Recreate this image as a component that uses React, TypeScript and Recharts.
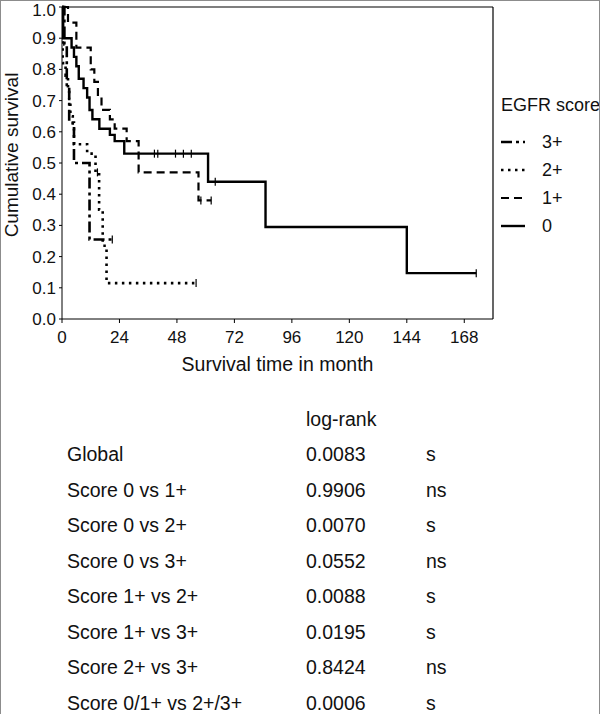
import { LineChart, Line, XAxis, YAxis, ReferenceLine, Legend, Label } from "recharts";

// Kaplan-Meier steps (months, cumulative survival)
const score0Time = [0, 0.5, 4, 5, 6, 7, 9, 10.5, 11.5, 12.7, 15.6, 20, 22, 26, 61, 85, 144];
const score0Surv = [1.0, 0.9, 0.87, 0.84, 0.81, 0.77, 0.74, 0.71, 0.67, 0.64, 0.61, 0.59, 0.57, 0.53, 0.44, 0.295, 0.147];
const score0Cens = [38.6, 40, 47.4, 50.7, 54, 64, 173];

const score1Time = [0, 2.5, 6, 12, 13.5, 15, 16.5, 20, 22, 27, 32, 57];
const score1Surv = [1.0, 0.95, 0.87, 0.8, 0.76, 0.71, 0.67, 0.64, 0.61, 0.57, 0.47, 0.38];
const score1Cens = [58, 62.3];

const score2Time = [0, 0.3, 1.5, 2.5, 3, 3.5, 4.5, 5, 10.5, 14, 15.5, 17, 18.6];
const score2Surv = [1.0, 0.82, 0.78, 0.74, 0.7, 0.65, 0.61, 0.56, 0.53, 0.47, 0.35, 0.235, 0.115];
const score2Cens = [14.8, 56];

const score3Time = [0, 1, 2, 3, 5, 11.5];
const score3Surv = [1.0, 0.88, 0.75, 0.63, 0.5, 0.255];
const score3Cens = [21];

const xTicks = [0, 24, 48, 72, 96, 120, 144, 168];
const yTicks = [0, 0.1, 0.2, 0.3, 0.4, 0.5, 0.6, 0.7, 0.8, 0.9, 1.0];

const comparisons = [
  "Global",
  "Score 0 vs 1+",
  "Score 0 vs 2+",
  "Score 0 vs 3+",
  "Score 1+ vs 2+",
  "Score 1+ vs 3+",
  "Score 2+ vs 3+",
  "Score 0/1+ vs 2+/3+",
];
const pValues = ["0.0083", "0.9906", "0.0070", "0.0552", "0.0088", "0.0195", "0.8424", "0.0006"];
const signif = ["s", "ns", "s", "ns", "s", "s", "ns", "s"];

const FONT = "'Liberation Sans', Arial, sans-serif";

function buildSteps(times: number[], surv: number[], cens: number[]) {
  const pts = times.map((t, i) => ({ t, s: surv[i], c: false }));
  cens.forEach((ct) => {
    let idx = 0;
    times.forEach((t, i) => {
      if (t <= ct) idx = i;
    });
    pts.push({ t: ct, s: surv[idx], c: true });
  });
  return pts.sort((a, b) => a.t - b.t);
}

const series = [
  { name: "3+", data: buildSteps(score3Time, score3Surv, score3Cens), dash: "11 4 3 4", width: 2.6 },
  { name: "2+", data: buildSteps(score2Time, score2Surv, score2Cens), dash: "2.5 4.5", width: 2.6 },
  { name: "1+", data: buildSteps(score1Time, score1Surv, score1Cens), dash: "8 5", width: 2.2 },
  { name: "0", data: buildSteps(score0Time, score0Surv, score0Cens), dash: undefined, width: 2.4 },
];

function CensorDot(props: any) {
  const { cx, cy, payload, index } = props;
  if (!payload?.c || cx == null) return <g key={`n-${index}`} />;
  return (
    <line
      key={`c-${index}`}
      x1={cx}
      x2={cx}
      y1={cy - 4}
      y2={cy + 4}
      stroke="#000"
      strokeWidth={1.2}
      strokeDasharray="none"
    />
  );
}

function LegendBox() {
  return (
    <div style={{ fontFamily: FONT, fontSize: 18, color: "#111", whiteSpace: "nowrap" }}>
      <div style={{ height: 28, lineHeight: "28px" }}>EGFR score</div>
      {series.map((s, i) => (
        <div
          key={s.name}
          style={{ height: 28, display: "flex", alignItems: "center", marginTop: i === 0 ? 9 : 0 }}
        >
          <svg width={41} height={10}>
            <line x1={0} x2={24} y1={5} y2={5} stroke="#000" strokeWidth={s.width} strokeDasharray={s.dash} />
          </svg>
          <span>{s.name}</span>
        </div>
      ))}
    </div>
  );
}

function YTitle() {
  return (
    <text
      x={18}
      y={155}
      transform="rotate(-90 18 155)"
      textAnchor="middle"
      fontFamily={FONT}
      fontSize={19}
      fill="#111"
    >
      Cumulative survival
    </text>
  );
}

export default function App() {
  return (
    <div
      style={{
        position: "absolute",
        left: 0,
        top: 0,
        width: 600,
        height: 714,
        overflow: "hidden",
        background: "#fff",
        fontFamily: FONT,
      }}
    >
      <LineChart width={600} height={380} margin={{ top: 7, right: 107, bottom: 31, left: 10 }}>
        <XAxis
          dataKey="t"
          type="number"
          domain={[0, 180]}
          ticks={xTicks}
          allowDataOverflow
          stroke="#000"
          tickSize={4}
          tickMargin={8}
          height={30}
          tick={{ fill: "#111", fontSize: 17, fontFamily: FONT }}
        >
          <Label
            value="Survival time in month"
            position="bottom"
            offset={8}
            fill="#111"
            fontSize={19.5}
            fontFamily={FONT}
          />
        </XAxis>
        <YAxis
          type="number"
          domain={[0, 1]}
          ticks={yTicks}
          width={52}
          stroke="#000"
          tickSize={3}
          tickMargin={3}
          tickFormatter={(v: number) => v.toFixed(1)}
          tick={{ fill: "#111", fontSize: 17, fontFamily: FONT }}
        >
          <Label content={() => <YTitle />} />
        </YAxis>
        <ReferenceLine y={1} stroke="#000" strokeWidth={1.2} />
        <ReferenceLine x={180} stroke="#000" strokeWidth={1.2} />
        {series.map((s) => (
          <Line
            key={s.name}
            name={s.name}
            data={s.data}
            dataKey="s"
            type="stepAfter"
            stroke="#000"
            strokeWidth={s.width}
            strokeDasharray={s.dash}
            dot={CensorDot}
            activeDot={false}
            isAnimationActive={false}
          />
        ))}
        <Legend
          layout="vertical"
          align="center"
          verticalAlign="middle"
          content={() => <LegendBox />}
          wrapperStyle={{ position: "absolute", left: 501, top: 91, width: 110 }}
        />
      </LineChart>

      {/* log-rank table */}
      <div style={{ position: "absolute", left: 306, top: 408, fontSize: 19.5, lineHeight: "22px", color: "#111" }}>
        log-rank
      </div>
      {comparisons.map((c, i) => (
        <div
          key={c}
          style={{
            position: "absolute",
            left: 0,
            top: 443 + i * 35.5,
            width: 600,
            height: 22,
            fontSize: 19.5,
            lineHeight: "22px",
            color: "#111",
            whiteSpace: "nowrap",
          }}
        >
          <span style={{ position: "absolute", left: 67 }}>{c}</span>
          <span style={{ position: "absolute", left: 306 }}>{pValues[i]}</span>
          <span style={{ position: "absolute", left: 426 }}>{signif[i]}</span>
        </div>
      ))}

      <div
        style={{
          position: "absolute",
          left: 0,
          top: 0,
          width: 600,
          height: 720,
          boxSizing: "border-box",
          border: "1px solid #8c8c8c",
          pointerEvents: "none",
        }}
      />
    </div>
  );
}
